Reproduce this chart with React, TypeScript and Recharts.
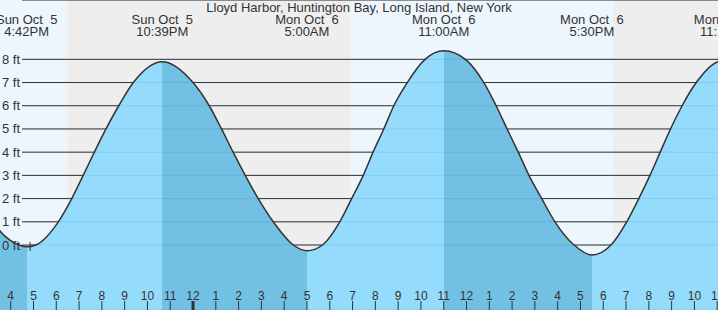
import React from 'react';
import {
  ComposedChart,
  Area,
  Line,
  XAxis,
  YAxis,
  CartesianGrid,
  ReferenceArea,
  ReferenceLine,
  ReferenceDot,
} from 'recharts';

// ---------- data (hours counted from Sun Oct 5, 00:00) ----------
const tideHours = [
  15.0, 15.53, 16.36, 16.7, 17.1, 18.09, 18.68, 19.18, 19.67, 20.18, 20.74, 21.38, 22.65,
  24.0, 24.71, 25.25, 25.76, 26.29, 26.86, 27.52, 28.4, 29.0,
  29.68, 30.44, 30.96, 31.47, 31.9, 32.37, 32.81, 33.4, 34.18, 35.0,
  35.95, 36.76, 37.3, 37.78, 38.27, 38.74, 39.3, 39.88, 40.72, 41.5,
  42.34, 43.03, 43.56, 44.05, 44.5, 44.95, 45.46, 46.08, 47.03, 47.37, 48.2,
];
const tideFeet = [
  1.35, 0.6, 0, -0.08, 0, 1, 2, 3, 4, 5, 6, 7, 7.9,
  7, 6, 5, 4, 3, 2, 1, 0, -0.25,
  0, 1, 2, 3, 4, 5, 6, 7, 8, 8.37,
  8, 7, 6, 5, 4, 3, 2, 1, 0, -0.43,
  0, 1, 2, 3, 4, 5, 6, 7, 7.9, 7.96, 7.6,
];

const extremeHours = [16.7, 22.65, 29.0, 35.0, 41.5, 47.37];
const extremeKinds = ['low', 'high', 'low', 'high', 'low', 'high'];
const extremeDates = ['Sun Oct  5', 'Sun Oct  5', 'Mon Oct  6', 'Mon Oct  6', 'Mon Oct  6', 'Mon Oct  6'];
const extremeTimes = ['4:42PM', '10:39PM', '5:00AM', '11:00AM', '5:30PM', '11:22PM'];

const nightStarts = [18.48, 42.42];
const nightEnds = [30.92, 54.93];

const hourTicks = [
  16, 17, 18, 19, 20, 21, 22, 23, 24, 25, 26, 27, 28, 29, 30, 31,
  32, 33, 34, 35, 36, 37, 38, 39, 40, 41, 42, 43, 44, 45, 46, 47,
];
const feetTicks = [0, 1, 2, 3, 4, 5, 6, 7, 8];
const nowHour = 16.85;
const title = 'Lloyd Harbor, Huntington Bay, Long Island, New York';

// ---------- layout / style ----------
const W = 718;
const H = 310;
const X_MIN = 15.53;
const X_MAX = 47.035;
const Y_MIN = -2.8;
const Y_MAX = 10.556;
const FONT = "'Liberation Sans', Arial, sans-serif";
const TEXT = '#333333';
const DAY_BG = '#eef6fd';
const NIGHT_BG = '#eeeeee';
const RISE_FILL = '#95dcfc';
const FALL_FILL = '#73c0e5';

const tideData = tideHours.map((t, i) => ({ t, ft: tideFeet[i] }));

// gradient stops: falling tide (high -> low) darker
const T0 = tideHours[0];
const T1 = tideHours[tideHours.length - 1];
const bounds = [T0, ...extremeHours, T1];
const gradStops: { off: number; color: string }[] = [];
for (let j = 0; j < bounds.length - 1; j++) {
  const falling = j === 0 ? extremeKinds[0] === 'low' : extremeKinds[j - 1] === 'high';
  const color = falling ? FALL_FILL : RISE_FILL;
  gradStops.push({ off: (bounds[j] - T0) / (T1 - T0), color });
  gradStops.push({ off: (bounds[j + 1] - T0) / (T1 - T0), color });
}

const ExtremeLabel = (props: any) => {
  const { viewBox, date, time } = props;
  const x = viewBox ? viewBox.x : 0;
  const y = viewBox ? viewBox.y : 0;
  return (
    <g>
      <text x={x} y={y + 24} textAnchor="middle" fontSize={13} fontFamily={FONT} fill={TEXT} style={{ whiteSpace: 'pre' }}>
        {date}
      </text>
      <text x={x} y={y + 36} textAnchor="middle" fontSize={13} fontFamily={FONT} fill={TEXT}>
        {time}
      </text>
    </g>
  );
};

const HourTick = (props: any) => {
  const { x, payload } = props;
  const v = payload.value as number;
  const h = v % 12 === 0 ? 12 : v % 12;
  return (
    <g>
      <line x1={x} x2={x} y1={H - 9} y2={H} stroke={TEXT} strokeWidth={v === 24 ? 3 : 1} />
      <text x={x} y={H - 10.5} textAnchor="middle" fontSize={12} fontFamily={FONT} fill={TEXT}>
        {h}
      </text>
    </g>
  );
};

const FeetTick = (props: any) => {
  const { y, payload } = props;
  return (
    <text x={2} y={y + 4.5} textAnchor="start" fontSize={13} fontFamily={FONT} fill={TEXT}>
      {`${payload.value} ft`}
    </text>
  );
};

const blackGridLine = (p: any) => (
  <line key={p.key} x1={p.x1 + 22} y1={p.y1} x2={p.x2} y2={p.y2} stroke={TEXT} strokeWidth={1} />
);
const faintGridLine = (p: any) => (
  <line key={p.key} x1={p.x1 + 22} y1={p.y1} x2={p.x2} y2={p.y2} stroke="#003c64" strokeOpacity={0.1} strokeWidth={1} />
);

const NowMark = (p: any) => (
  <line x1={p.cx} x2={p.cx} y1={p.cy - 3} y2={p.cy + 6} stroke={TEXT} strokeWidth={1} />
);

export default function App() {
  return (
    <div style={{ position: 'relative', width: W, height: H, background: DAY_BG, overflow: 'hidden' }}>
      <style>{'body{margin:0}'}</style>
      <ComposedChart width={W} height={H} data={tideData} margin={{ top: 0, right: 0, bottom: 0, left: 0 }}>
        <defs>
          <linearGradient id="tideFill" x1="0" y1="0" x2="1" y2="0">
            {gradStops.map((s, i) => (
              <stop key={i} offset={s.off} stopColor={s.color} />
            ))}
          </linearGradient>
        </defs>
        <XAxis
          dataKey="t"
          type="number"
          domain={[X_MIN, X_MAX]}
          allowDataOverflow
          ticks={hourTicks}
          interval={0}
          mirror
          axisLine={false}
          tickLine={false}
          tick={<HourTick />}
          zIndex={500}
        />
        <YAxis
          type="number"
          domain={[Y_MIN, Y_MAX]}
          allowDataOverflow
          ticks={feetTicks}
          interval={0}
          mirror
          axisLine={false}
          tickLine={false}
          tick={<FeetTick />}
          zIndex={500}
        />
        {nightStarts.map((s, i) => (
          <ReferenceArea
            key={`n${i}`}
            x1={s}
            x2={nightEnds[i]}
            y1={Y_MIN}
            y2={Y_MAX}
            fill={NIGHT_BG}
            fillOpacity={1}
            stroke="none"
            ifOverflow="hidden"
            zIndex={-200}
          />
        ))}
        <CartesianGrid vertical={false} horizontal={blackGridLine} zIndex={-100} />
        <Area
          type="monotone"
          dataKey="ft"
          baseValue="dataMin"
          fill="url(#tideFill)"
          fillOpacity={1}
          stroke="none"
          activeDot={false}
          isAnimationActive={false}
          zIndex={100}
        />
        <CartesianGrid vertical={false} horizontal={faintGridLine} zIndex={150} />
        <Line
          type="monotone"
          dataKey="ft"
          stroke={TEXT}
          strokeWidth={1.5}
          dot={false}
          activeDot={false}
          isAnimationActive={false}
          zIndex={400}
        />
        <ReferenceDot x={nowHour} y={0} r={3} shape={NowMark} ifOverflow="visible" zIndex={600} />
        {extremeHours.map((t, i) => (
          <ReferenceLine
            key={`e${i}`}
            x={t}
            stroke="none"
            ifOverflow="visible"
            zIndex={2000}
            label={<ExtremeLabel date={extremeDates[i]} time={extremeTimes[i]} />}
          />
        ))}
      </ComposedChart>
      <div
        style={{
          position: 'absolute',
          left: 0,
          top: 1,
          width: W,
          textAlign: 'center',
          fontFamily: FONT,
          fontSize: 13,
          lineHeight: '13px',
          color: TEXT,
          pointerEvents: 'none',
          whiteSpace: 'pre',
        }}
      >
        {title}
      </div>
    </div>
  );
}
